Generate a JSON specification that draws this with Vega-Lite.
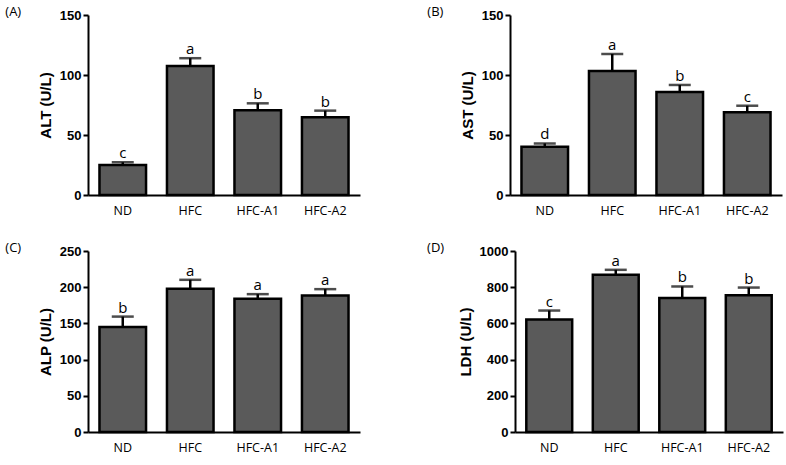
{
  "$schema": "https://vega.github.io/schema/vega-lite/v6.json",
  "padding": {"left": 5, "top": 6, "right": 1, "bottom": 2},
  "background": "white",
  "config": {
    "view": {"stroke": null},
    "axis": {"domainColor": "black", "domainWidth": 2, "tickColor": "black", "tickWidth": 2, "tickSize": 5, "labelColor": "black", "titleColor": "black", "grid": false},
    "axisY": {"labelFont": "Liberation Sans", "labelFontWeight": "bold", "labelFontSize": 13, "labelPadding": 2, "titleFont": "Liberation Sans", "titleFontSize": 15, "titleFontWeight": "bold", "titlePadding": 6, "format": "d"},
    "axisX": {"labelFont": "Open Sans", "labelFontSize": 12.5, "ticks": false, "labelPadding": 9, "labelAngle": 0, "title": null},
    "title": {"anchor": "start", "frame": "bounds", "font": "Open Sans", "fontSize": 13, "fontWeight": "normal", "color": "black", "dx": -33, "offset": -10}
  },
  "data": {"values": [
    {"panel": "A", "group": "ND", "mean": 25, "upper": 27.3, "letter": "c"},
    {"panel": "A", "group": "HFC", "mean": 107.5, "upper": 114, "letter": "a"},
    {"panel": "A", "group": "HFC-A1", "mean": 70.6, "upper": 76.4, "letter": "b"},
    {"panel": "A", "group": "HFC-A2", "mean": 64.7, "upper": 70.3, "letter": "b"},
    {"panel": "B", "group": "ND", "mean": 40.3, "upper": 43, "letter": "d"},
    {"panel": "B", "group": "HFC", "mean": 103.3, "upper": 117.5, "letter": "a"},
    {"panel": "B", "group": "HFC-A1", "mean": 85.8, "upper": 91.7, "letter": "b"},
    {"panel": "B", "group": "HFC-A2", "mean": 68.9, "upper": 74.4, "letter": "c"},
    {"panel": "C", "group": "ND", "mean": 145, "upper": 159.4, "letter": "b"},
    {"panel": "C", "group": "HFC", "mean": 197.8, "upper": 210.2, "letter": "a"},
    {"panel": "C", "group": "HFC-A1", "mean": 183.9, "upper": 190.4, "letter": "a"},
    {"panel": "C", "group": "HFC-A2", "mean": 188.5, "upper": 197.3, "letter": "a"},
    {"panel": "D", "group": "ND", "mean": 621, "upper": 671, "letter": "c"},
    {"panel": "D", "group": "HFC", "mean": 869, "upper": 896, "letter": "a"},
    {"panel": "D", "group": "HFC-A1", "mean": 741, "upper": 804, "letter": "b"},
    {"panel": "D", "group": "HFC-A2", "mean": 756, "upper": 798, "letter": "b"}
  ]},
  "vconcat": [
    {"hconcat": [
      {
        "title": {"text": "(A)"},
        "width": 272, "height": 180,
        "transform": [{"filter": "datum.panel == 'A'"}],
        "encoding": {
          "x": {"field": "group", "type": "nominal", "sort": ["ND", "HFC", "HFC-A1", "HFC-A2"], "scale": {"paddingInner": 0.31, "paddingOuter": 0.17}},
          "y": {"field": "mean", "type": "quantitative", "scale": {"domain": [0, 150], "nice": false}, "axis": {"title": "ALT (U/L)", "values": [0, 50, 100, 150]}}
        },
        "layer": [
          {"mark": {"type": "rule", "strokeWidth": 2.5, "color": "black"}, "encoding": {"y2": {"field": "upper"}}},
          {"mark": {"type": "tick", "thickness": 2.5, "size": 22, "color": "black"}, "encoding": {"y": {"field": "upper", "type": "quantitative"}}},
          {"mark": {"type": "bar", "fill": "#5a5a5a", "stroke": "black", "strokeWidth": 2.5}},
          {"mark": {"type": "text", "dy": -4, "baseline": "alphabetic", "fontSize": 15, "font": "Open Sans", "color": "black"}, "encoding": {"y": {"field": "upper", "type": "quantitative"}, "text": {"field": "letter"}}}
        ]
      },
      {
        "title": {"text": "(B)"},
        "width": 272, "height": 180,
        "transform": [{"filter": "datum.panel == 'B'"}],
        "encoding": {
          "x": {"field": "group", "type": "nominal", "sort": ["ND", "HFC", "HFC-A1", "HFC-A2"], "scale": {"paddingInner": 0.31, "paddingOuter": 0.17}},
          "y": {"field": "mean", "type": "quantitative", "scale": {"domain": [0, 150], "nice": false}, "axis": {"title": "AST (U/L)", "values": [0, 50, 100, 150]}}
        },
        "layer": [
          {"mark": {"type": "rule", "strokeWidth": 2.5, "color": "black"}, "encoding": {"y2": {"field": "upper"}}},
          {"mark": {"type": "tick", "thickness": 2.5, "size": 22, "color": "black"}, "encoding": {"y": {"field": "upper", "type": "quantitative"}}},
          {"mark": {"type": "bar", "fill": "#5a5a5a", "stroke": "black", "strokeWidth": 2.5}},
          {"mark": {"type": "text", "dy": -4, "baseline": "alphabetic", "fontSize": 15, "font": "Open Sans", "color": "black"}, "encoding": {"y": {"field": "upper", "type": "quantitative"}, "text": {"field": "letter"}}}
        ]
      }
    ], "spacing": 67},
    {"hconcat": [
      {
        "title": {"text": "(C)"},
        "width": 272, "height": 181,
        "transform": [{"filter": "datum.panel == 'C'"}],
        "encoding": {
          "x": {"field": "group", "type": "nominal", "sort": ["ND", "HFC", "HFC-A1", "HFC-A2"], "scale": {"paddingInner": 0.31, "paddingOuter": 0.17}},
          "y": {"field": "mean", "type": "quantitative", "scale": {"domain": [0, 250], "nice": false}, "axis": {"title": "ALP (U/L)", "values": [0, 50, 100, 150, 200, 250]}}
        },
        "layer": [
          {"mark": {"type": "rule", "strokeWidth": 2.5, "color": "black"}, "encoding": {"y2": {"field": "upper"}}},
          {"mark": {"type": "tick", "thickness": 2.5, "size": 22, "color": "black"}, "encoding": {"y": {"field": "upper", "type": "quantitative"}}},
          {"mark": {"type": "bar", "fill": "#5a5a5a", "stroke": "black", "strokeWidth": 2.5}},
          {"mark": {"type": "text", "dy": -4, "baseline": "alphabetic", "fontSize": 15, "font": "Open Sans", "color": "black"}, "encoding": {"y": {"field": "upper", "type": "quantitative"}, "text": {"field": "letter"}}}
        ]
      },
      {
        "title": {"text": "(D)", "dx": -31},
        "width": 268, "height": 181,
        "transform": [{"filter": "datum.panel == 'D'"}],
        "encoding": {
          "x": {"field": "group", "type": "nominal", "sort": ["ND", "HFC", "HFC-A1", "HFC-A2"], "scale": {"paddingInner": 0.31, "paddingOuter": 0.17}},
          "y": {"field": "mean", "type": "quantitative", "scale": {"domain": [0, 1000], "nice": false}, "axis": {"title": "LDH (U/L)", "values": [0, 200, 400, 600, 800, 1000]}}
        },
        "layer": [
          {"mark": {"type": "rule", "strokeWidth": 2.5, "color": "black"}, "encoding": {"y2": {"field": "upper"}}},
          {"mark": {"type": "tick", "thickness": 2.5, "size": 22, "color": "black"}, "encoding": {"y": {"field": "upper", "type": "quantitative"}}},
          {"mark": {"type": "bar", "fill": "#5a5a5a", "stroke": "black", "strokeWidth": 2.5}},
          {"mark": {"type": "text", "dy": -4, "baseline": "alphabetic", "fontSize": 15, "font": "Open Sans", "color": "black"}, "encoding": {"y": {"field": "upper", "type": "quantitative"}, "text": {"field": "letter"}}}
        ]
      }
    ], "spacing": 67}
  ],
  "spacing": 25
}
